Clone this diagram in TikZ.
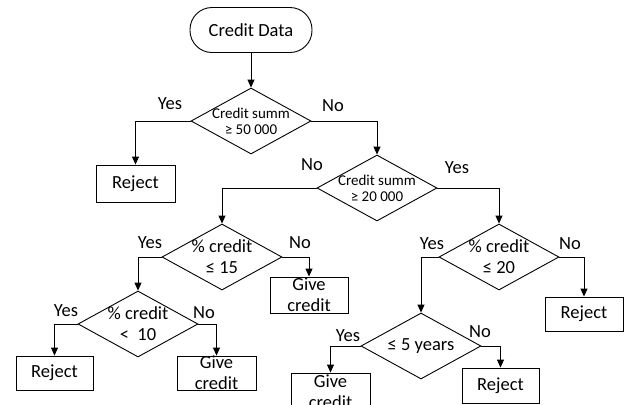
\documentclass[tikz,border=0pt]{standalone}
\usepackage{fontspec}
\setmainfont{Carlito}
\usetikzlibrary{shapes.geometric,arrows.meta}
\begin{document}
\begin{tikzpicture}[x=1pt,y=-1pt,
  every node/.style={font=\fontsize{18.5}{21}\selectfont, inner sep=0pt},
  dia/.style={diamond, draw, line width=0.9pt, minimum width=120pt, minimum height=66pt},
  box/.style={rectangle, draw, line width=0.9pt, align=center},
  txt/.style={align=center},
  smalltxt/.style={align=center, font=\fontsize{15}{16}\selectfont},
  arr/.style={draw, line width=0.9pt, -{Triangle[width=7pt,length=8pt]}},
  lab/.style={}
]
\useasboundingbox (0,0) rectangle (625,405);
% start
\node[box, rounded corners=22pt, minimum width=122pt, minimum height=45pt] (start) at (251,30) {Credit Data};
% diamonds
\node[dia] (d1) at (251,121) {};
\node[smalltxt] (d1t) at (d1) {Credit summ\\≥ 50 000};
\node[dia] (d2) at (377,188) {};
\node[smalltxt] (d2t) at (d2) {Credit summ\\≥ 20 000};
\node[dia] (d3) at (222,257) {};
\node[txt] (d3t) at (d3) {\% credit\\≤ 15};
\node[dia] (d4) at (138,324) {};
\node[txt] (d4t) at (d4) {\% credit\\<\ \ 10};
\node[dia] (d5) at (499,257) {};
\node[txt] (d5t) at (d5) {\% credit\\≤ 20};
\node[dia] (d6) at (421,346) {};
\node[txt] (d6t) at (d6) {≤ 5 years};
% boxes
\node[box, minimum width=79pt, minimum height=37pt] (r1) at (135.5,183.5) {Reject};
\node[box, minimum width=78pt, minimum height=36pt] (g1) at (309,295) {Give\\credit};
\node[box, minimum width=77pt, minimum height=34pt] (r2) at (54.5,373) {Reject};
\node[box, minimum width=79pt, minimum height=34pt] (g2) at (216.5,373) {Give\\credit};
\node[box, minimum width=78pt, minimum height=34pt] (r3) at (584,314) {Reject};
\node[box, minimum width=79pt, minimum height=37pt] (g3) at (330.5,391.5) {Give\\credit};
\node[box, minimum width=77pt, minimum height=35pt] (r4) at (500.5,385.5) {Reject};
% connectors
\draw[arr] (start) -- (d1);
\draw[arr] (d1.west) -| (r1.north);
\draw[arr] (d1.east) -| (d2.north);
\draw[arr] (d2.west) -| (d3.north);
\draw[arr] (d2.east) -| (d5.north);
\draw[arr] (d3.west) -| (d4.north);
\draw[arr] (d3.east) -| (g1.north);
\draw[arr] (d4.west) -| (r2.north);
\draw[arr] (d4.east) -| (g2.north);
\draw[arr] (d5.west) -| (d6.north);
\draw[arr] (d5.east) -| (r3.north);
\draw[arr] (d6.west) -| (g3.north);
\draw[arr] (d6.east) -| (r4.north);
% labels
\node[lab] (l1y) at (170,104) {Yes};
\node[lab] (l1n) at (333,106) {No};
\node[lab] (l2n) at (312,165) {No};
\node[lab] (l2y) at (457,168) {Yes};
\node[lab] (l3y) at (150,243) {Yes};
\node[lab] (l3n) at (300,243) {No};
\node[lab] (l4y) at (66,311) {Yes};
\node[lab] (l4n) at (204,313) {No};
\node[lab] (l5y) at (432,244) {Yes};
\node[lab] (l5n) at (570,244) {No};
\node[lab] (l6y) at (348,336) {Yes};
\node[lab] (l6n) at (480,332) {No};
\end{tikzpicture}
\end{document}
